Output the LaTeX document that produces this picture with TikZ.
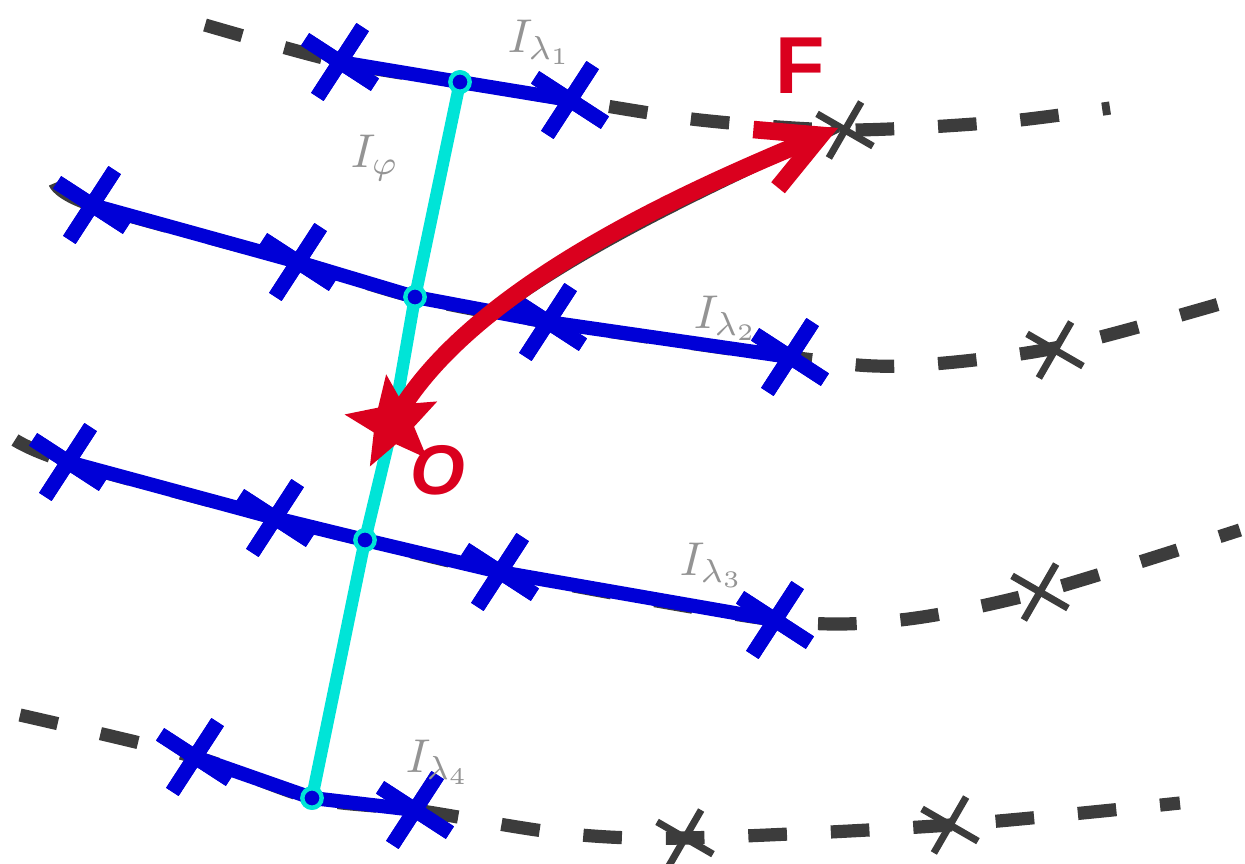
\documentclass[tikz,border=0pt]{standalone}
\usepackage{fontspec}
\newfontfamily\handfont{Liberation Sans}
\usetikzlibrary{arrows.meta,shapes.misc,shapes.geometric}
\definecolor{inkblue}{RGB}{0,0,215}
\definecolor{inkcyan}{RGB}{0,228,215}
\definecolor{inkred}{RGB}{218,0,30}
\definecolor{pencil}{RGB}{60,60,60}
\tikzset{
  pencildash/.style={pencil,line width=7.5pt,dash pattern=on 22pt off 25pt},
  pencilline/.style={pencil,line width=6pt,line cap=round},
  bluecut/.style={inkblue,line width=8pt,line cap=round,line join=round},
  bluecross/.style={cross out,draw=inkblue,line width=8.5pt,minimum size=25pt,inner sep=0pt,rotate=12},
  graycross/.style={cross out,draw=pencil,line width=4pt,minimum size=22pt,inner sep=0pt,rotate=15},
  knot/.style={circle,draw=inkcyan,fill=inkblue,line width=2.5pt,inner sep=0pt,minimum size=11pt},
  origin/.style={star,star points=5,star point ratio=2.3,fill=inkred,minimum size=56pt,inner sep=0pt,rotate=8},
  sketchlabel/.style={pencil!55,scale=2.7},
}
\begin{document}
\begin{tikzpicture}[x=0.02cm,y=-0.02cm]
\useasboundingbox (0,0) rectangle (1245,863);
% pencil curves
\draw[pencildash] plot[smooth] coordinates {(205,25) (340,62) (460,82) (570,100) (700,120) (845,130) (1000,122) (1110,108)};
\draw[pencildash] plot[smooth] coordinates {(55,183) (92,205) (298,262) (415,297) (548,322) (790,357) (900,366) (1055,348) (1240,298)};
\draw[pencildash] plot[smooth] coordinates {(15,440) (68,462) (275,518) (365,540) (500,572) (775,620) (900,620) (1040,592) (1240,530)};
\draw[pencildash] plot[smooth] coordinates {(20,715) (195,757) (312,798) (415,810) (560,833) (685,838) (950,825) (1180,803)};
\node[graycross] (g1) at (845,130) {};
\node[graycross] (g2) at (1055,350) {};
\node[graycross] (g3) at (1040,592) {};
\node[graycross] (g4) at (685,838) {};
\node[graycross] (g5) at (950,825) {};
% knots on the cyan line
\node[knot] (k1) at (460,82) {};
\node[knot] (k2) at (415,297) {};
\node[knot] (k3) at (365,540) {};
\node[knot] (k4) at (312,798) {};
% blue crosses
\node[bluecross] (a1) at (340,62) {};
\node[bluecross] (a2) at (570,100) {};
\node[bluecross] (b1) at (92,205) {};
\node[bluecross] (b2) at (298,262) {};
\node[bluecross] (b3) at (548,322) {};
\node[bluecross] (b4) at (790,357) {};
\node[bluecross] (c1) at (68,462) {};
\node[bluecross] (c2) at (275,518) {};
\node[bluecross] (c3) at (500,572) {};
\node[bluecross] (c4) at (775,620) {};
\node[bluecross] (d1) at (195,757) {};
\node[bluecross] (d2) at (415,810) {};
% pencil under the blue segments
\draw[pencilline,yshift=-3] (a1.center) -- (k1.center) -- (a2.center);
\draw[pencilline,yshift=-3] (b1.center) -- (b2.center) -- (k2.center) -- (b3.center) -- (b4.center);
\draw[pencilline,yshift=-3] (c1.center) -- (c2.center) -- (k3.center) -- (c3.center) -- (c4.center);
\draw[pencilline,yshift=-3] (d1.center) -- (k4.center) -- (d2.center);
% blue segments
\draw[bluecut] (a1.center) -- (k1.center) -- (a2.center);
\draw[bluecut] (b1.center) -- (b2.center) -- (k2.center) -- (b3.center) -- (b4.center);
\draw[bluecut] (c1.center) -- (c2.center) -- (k3.center) -- (c3.center) -- (c4.center);
\draw[bluecut] (d1.center) -- (k4.center) -- (d2.center);
\foreach \n in {a1,a2,b1,b2,b3,b4,c1,c2,c3,c4,d1,d2}
  \node[bluecross] at (\n) {};
% origin
\coordinate (O) at (393,423);
% cyan line
\draw[pencilline,xshift=-4] (k1.center) -- (k2.center) -- (O) -- (k3.center) -- (k4.center);
\draw[inkcyan,line width=7pt,line cap=round] (k1.center) -- (k2.center) -- (O) -- (k3.center) -- (k4.center);
\foreach \n in {k1,k2,k3,k4}
  \node[knot] at (\n) {};
\node[origin] (star) at (O) {};
% arrow to F
\coordinate (tip) at (838,128);
\draw[pencil,line width=5pt,xshift=-4,yshift=-7] (star.center) .. controls (470,280) and (720,178) .. (tip);
\draw[inkred,line width=10pt,line cap=round,-{Straight Barb[length=34pt,width=36pt]}] (star.center) .. controls (470,280) and (720,178) .. (tip);
% labels
\node[inkred,font=\handfont\bfseries\itshape\fontsize{40}{40}\selectfont] (Olab) at (438,470) {O};
\node[inkred,font=\handfont\bfseries\fontsize{46}{46}\selectfont] (Flab) at (800,66) {F};
\node[sketchlabel] (l1) at (540,42) {$I_{\lambda_1}$};
\node[sketchlabel] (lp) at (375,158) {$I_{\varphi}$};
\node[sketchlabel] (l2) at (726,318) {$I_{\lambda_2}$};
\node[sketchlabel] (l3) at (712,565) {$I_{\lambda_3}$};
\node[sketchlabel] (l4) at (438,762) {$I_{\lambda_4}$};
\end{tikzpicture}
\end{document}
